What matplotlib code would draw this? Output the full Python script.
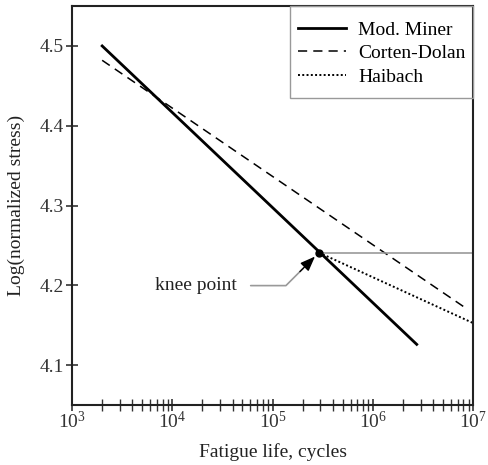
import numpy as np
import matplotlib
matplotlib.use("Agg")
import matplotlib.pyplot as plt
from matplotlib.ticker import LogLocator, NullFormatter
from matplotlib.patches import Rectangle

plt.rcParams['font.family'] = ['Liberation Serif', 'DejaVu Serif']
plt.rcParams['mathtext.fontset'] = 'custom'
plt.rcParams['mathtext.rm'] = 'Liberation Serif'
plt.rcParams['mathtext.it'] = 'Liberation Serif:italic'

# data (cycles, log stress)
miner_x = [2e3, 2.74e6]
miner_y = [4.500, 4.126]
corten_x = [2e3, 8.9e6]
corten_y = [4.482, 4.1695]
haibach_x = [2.9e5, 1e7]
haibach_y = [4.241, 4.1527]
knee_x = 2.9e5
knee_y = 4.241

fig = plt.figure(figsize=(4.88, 4.65), dpi=100)
ax = fig.add_axes([0.1475, 0.129, 0.822, 0.858])

ax.plot(miner_x, miner_y, color='black', lw=2.0, label='Mod. Miner')
ax.plot(corten_x, corten_y, color='black', lw=1.1, ls=(0, (6, 4)), label='Corten-Dolan')
ax.plot(haibach_x, haibach_y, color='black', lw=1.4, ls=(0, (1, 1.2)), label='Haibach')
ax.plot([knee_x, 1e7], [knee_y, knee_y], color='#999999', lw=1.2)
ax.plot([knee_x], [knee_y], 'o', color='black', ms=5)

# gray leader line
ax.annotate('knee point', xy=(knee_x, knee_y), xycoords='data',
            xytext=(-164, -33), textcoords='offset pixels',
            fontsize=14, ha='left', va='center', color='#222222',
            arrowprops=dict(arrowstyle='-', color='#999999', lw=1.2,
                            connectionstyle='angle,angleA=0,angleB=45,rad=0',
                            shrinkA=8, shrinkB=16))
# black arrow head
ax.annotate('', xy=(knee_x, knee_y), xycoords='data',
            xytext=(-19, -19), textcoords='offset pixels',
            arrowprops=dict(arrowstyle='-|>,head_length=0.9,head_width=0.35',
                            color='black', lw=1.0, shrinkA=0, shrinkB=4))

ax.set_xscale('log')
ax.set_xlim(1e3, 1e7)
ax.set_ylim(4.05, 4.55)
ax.set_yticks([4.1, 4.2, 4.3, 4.4, 4.5])
ax.set_xticks([1e3, 1e4, 1e5, 1e6, 1e7])
ax.xaxis.set_minor_locator(LogLocator(base=10, subs=np.arange(2, 10)))
ax.xaxis.set_minor_formatter(NullFormatter())

ax.tick_params(axis='both', which='major', direction='inout', length=8, width=1.2,
               labelsize=14, colors='#333333')
ax.tick_params(axis='x', which='minor', direction='inout', length=8, width=1.0, colors='#333333')
ax.tick_params(axis='x', which='major', pad=0)
ax.tick_params(axis='y', which='major', pad=2)
for s in ax.spines.values():
    s.set_linewidth(1.5)
    s.set_color('#222222')

ax.set_xlabel('Fatigue life, cycles', fontsize=14, color='#222222', labelpad=8)
ax.set_ylabel('Log(normalized stress)', fontsize=14, color='#222222', labelpad=10)

leg = ax.legend(loc='upper right', bbox_to_anchor=(1.0, 0.982), fontsize=14,
                frameon=False, handlelength=2.5, borderaxespad=0, labelspacing=0.3,
                borderpad=0.4, handletextpad=0.6)

# legend frame: taller than the entries, touching the axes top
fig.canvas.draw()
lb = leg.get_window_extent()
ab = ax.get_window_extent()
inv = fig.transFigure.inverted()
(x0, y0) = inv.transform((lb.x0, lb.y0 - 5))
(x1, y1) = inv.transform((ab.x1, ab.y1))
fig.patches.append(Rectangle((x0, y0), x1 - x0, y1 - y0, transform=fig.transFigure,
                             fill=False, edgecolor='#999999', lw=1.0, zorder=5))

fig.savefig('out.png', dpi=100)
